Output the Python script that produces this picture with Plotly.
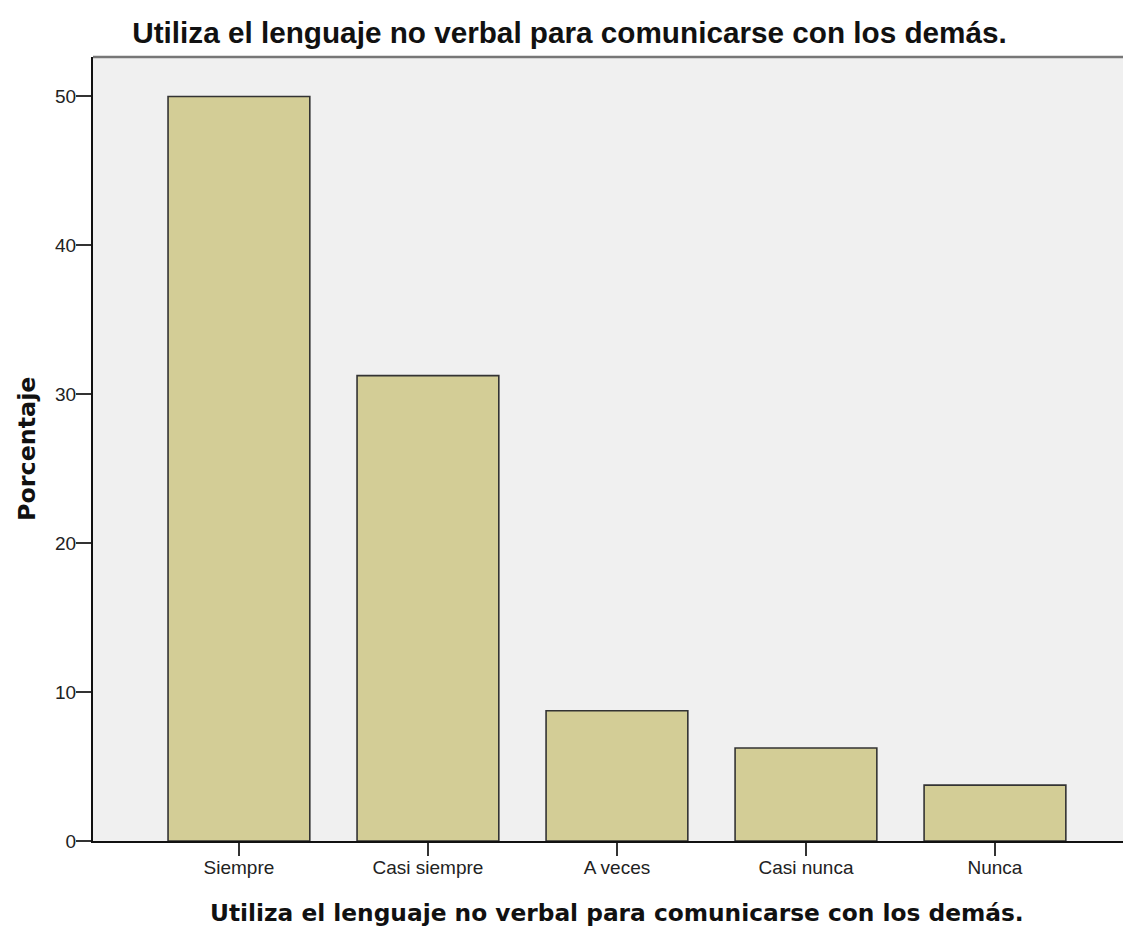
import plotly.graph_objects as go

categories = ["Siempre", "Casi siempre", "A veces", "Casi nunca", "Nunca"]
percentages = [50.0, 31.25, 8.75, 6.25, 3.75]
y_ticks = [0, 10, 20, 30, 40, 50]
title_text = "Utiliza el lenguaje no verbal para comunicarse con los demás."
y_title = "Porcentaje"

# page body adds an 8px margin, so the figure is sized/offset accordingly
W, H = 1131, 919
ML, MR, MT, MB = 85, 0, 49, 86
PW = W - ML - MR
PH = H - MT - MB

fig = go.Figure()
fig.add_trace(go.Bar(
    x=categories,
    y=percentages,
    width=0.75,
    marker=dict(color="#d3cd96", line=dict(color="#333333", width=1.6)),
    hoverinfo="x+y",
))

fig.update_layout(
    width=W, height=H,
    margin=dict(l=ML, r=MR, t=MT, b=MB, pad=0),
    paper_bgcolor="white",
    plot_bgcolor="#f0f0f0",
    showlegend=False,
    title=dict(
        text="<b>" + title_text + "</b>",
        font=dict(family="Liberation Sans", size=29.7, color="#111111"),
        xref="paper", x=(561.5 - ML) / PW, xanchor="center",
        yref="container", y=1 - 24.5 / H, yanchor="middle",
    ),
    xaxis=dict(
        type="category",
        range=[-0.772, 4.762],
        showgrid=False, zeroline=False,
        showline=True, linecolor="#111111", linewidth=2,
        ticks="outside", ticklen=13, tickwidth=2, tickcolor="#333333",
        tickfont=dict(family="Liberation Sans", size=19, color="#222222"),
        ticklabelstandoff=-5,
    ),
    yaxis=dict(
        range=[0, 52.65],
        tickvals=y_ticks,
        showgrid=False, zeroline=False,
        showline=True, linecolor="#111111", linewidth=2,
        ticks="outside", ticklen=15, tickwidth=2, tickcolor="#333333",
        tickfont=dict(family="Liberation Sans", size=19, color="#222222"),
        ticklabelstandoff=-4,
    ),
    annotations=[
        dict(text="<b>" + title_text + "</b>", xref="paper", yref="paper",
             x=(609 - ML) / PW, y=-(904 - (MT + PH)) / PH, xanchor="center", yanchor="middle",
             showarrow=False, font=dict(family="DejaVu Sans", size=23.3, color="#111111")),
        dict(text="<b>" + y_title + "</b>", xref="paper", yref="paper",
             x=-(ML - 19) / PW, y=0.5, xanchor="center", yanchor="middle",
             textangle=-90, showarrow=False,
             font=dict(family="DejaVu Sans", size=23.8, color="#111111")),
    ],
    shapes=[
        dict(type="line", xref="paper", yref="paper", x0=0, x1=1, y0=1, y1=1,
             line=dict(color="#777777", width=2.5)),
    ],
)

fig.write_html("out.html")
